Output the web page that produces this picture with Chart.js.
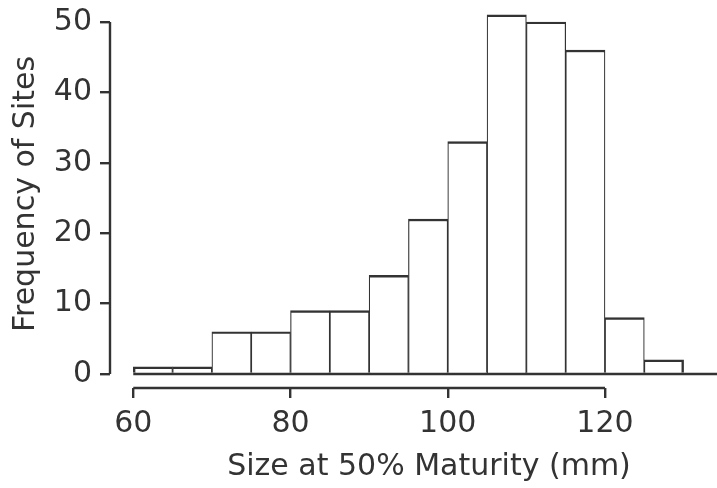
<!DOCTYPE html>
<html>
<head>
<meta charset="utf-8">
<script src="https://cdn.jsdelivr.net/npm/chart.js@4.4.1/dist/chart.umd.min.js"></script>
<style>
  html, body { margin: 0; padding: 0; background: #fff; overflow: hidden; }
  #wrap { width: 717px; height: 488px; overflow: hidden; }
</style>
</head>
<body>
<div id="wrap"><canvas id="hist" width="748" height="488"></canvas></div>
<script>
// histogram bins (left edges, mm) and counts
const binStarts = [60, 65, 70, 75, 80, 85, 90, 95, 100, 105, 110, 115, 120, 125];
const binWidth = 5;
const counts = [1, 1, 6, 6, 9, 9, 14, 22, 33, 51, 50, 46, 8, 2];
const xTicks = [60, 80, 100, 120];
const yTicks = [0, 10, 20, 30, 40, 50];

const INK = '#333';
const FONT = 'DejaVu Sans';
const LW = 2.4;

// R-style detached axis lines + zero baseline
const axisLines = {
    id: 'axisLines',
    afterDraw(chart) {
        const { ctx, chartArea, scales: { x, y } } = chart;
        ctx.save();
        ctx.strokeStyle = INK;
        ctx.lineWidth = LW;
        // baseline at 0, from first bin to the right edge
        const y0 = y.getPixelForValue(0);
        ctx.beginPath();
        ctx.moveTo(x.getPixelForValue(binStarts[0]), y0);
        ctx.lineTo(chartArea.right, y0);
        ctx.stroke();
        // x axis line
        ctx.beginPath();
        ctx.moveTo(x.getPixelForValue(xTicks[0]), chartArea.bottom);
        ctx.lineTo(x.getPixelForValue(xTicks[xTicks.length - 1]), chartArea.bottom);
        ctx.stroke();
        // y axis line
        ctx.beginPath();
        ctx.moveTo(chartArea.left, y.getPixelForValue(yTicks[0]));
        ctx.lineTo(chartArea.left, y.getPixelForValue(yTicks[yTicks.length - 1]));
        ctx.stroke();
        ctx.restore();
    }
};

const points = binStarts.map((b, i) => ({ x: b + binWidth / 2, y: counts[i] }));
const last = counts.length - 1;

new Chart(document.getElementById('hist').getContext('2d'), {
    type: 'bar',
    data: {
        datasets: [{
            data: points,
            backgroundColor: '#fff',
            borderColor: INK,
            borderWidth: ctx => ({
                top: LW,
                bottom: 0,
                left: ctx.dataIndex === 0 ? LW : LW / 2,
                right: ctx.dataIndex === last ? LW : LW / 2
            }),
            borderSkipped: false,
            barPercentage: 1,
            categoryPercentage: 1,
            grouped: false
        }]
    },
    options: {
        responsive: false,
        animation: false,
        layout: { padding: 0 },
        plugins: {
            legend: { display: false },
            tooltip: { enabled: false }
        },
        scales: {
            x: {
                type: 'linear',
                offset: false,
                min: 57.04,
                max: 138.19,
                afterBuildTicks: s => { s.ticks = xTicks.map(v => ({ value: v })); },
                afterFit: s => { s.height = 100; s.paddingLeft = 0; s.paddingRight = 0; },
                border: { display: false },
                grid: {
                    offset: false,
                    drawOnChartArea: false,
                    drawTicks: true,
                    tickLength: 10,
                    color: INK,
                    lineWidth: LW
                },
                ticks: {
                    autoSkip: false,
                    maxRotation: 0,
                    padding: 8,
                    color: INK,
                    font: { family: FONT, size: 30 }
                },
                title: {
                    display: true,
                    text: 'Size at 50% Maturity (mm)',
                    color: INK,
                    font: { family: FONT, size: 30 },
                    padding: { top: 0, bottom: 3 }
                }
            },
            y: {
                min: -1.99,
                max: 53.12,
                afterBuildTicks: s => { s.ticks = yTicks.map(v => ({ value: v })); },
                afterFit: s => { s.width = 110; s.paddingTop = 0; s.paddingBottom = 0; },
                border: { display: false },
                grid: {
                    drawOnChartArea: false,
                    drawTicks: true,
                    tickLength: 10,
                    color: INK,
                    lineWidth: LW
                },
                ticks: {
                    padding: 8,
                    color: INK,
                    font: { family: FONT, size: 30 }
                },
                title: {
                    display: true,
                    text: 'Frequency of Sites',
                    color: INK,
                    font: { family: FONT, size: 30 },
                    padding: { top: 8, bottom: 0 }
                }
            }
        }
    },
    plugins: [axisLines]
});
</script>
</body>
</html>
